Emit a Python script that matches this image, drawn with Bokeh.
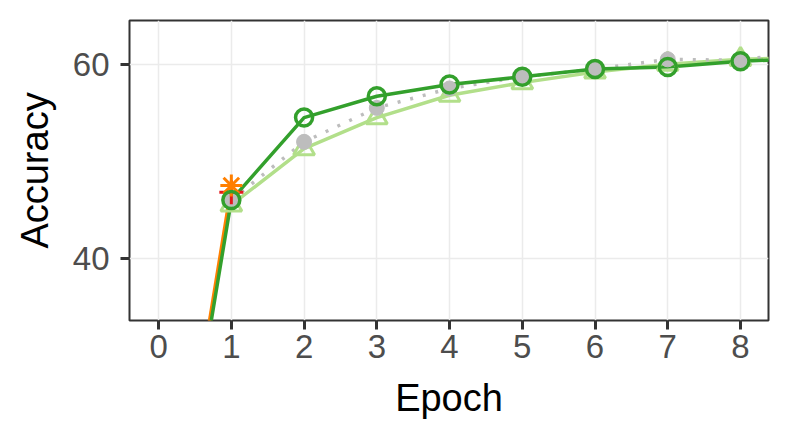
from bokeh.plotting import figure
from bokeh.models import Range1d, FixedTicker
from bokeh.embed import file_html
from bokeh.resources import INLINE

# ---- data ----
epochs = [0, 1, 2, 3, 4, 5, 6, 7, 8, 9]
acc_dark = [1.0, 46.0, 54.5, 56.7, 57.9, 58.7, 59.5, 59.7, 60.3, 60.6]
acc_light_epochs = [1, 2, 3, 4, 5, 6, 7, 8, 9]
acc_light = [45.5, 51.3, 54.5, 56.8, 58.1, 59.2, 60.0, 60.5, 60.7]
acc_gray_epochs = [1, 2, 3, 4, 5, 6, 7, 8, 9]
acc_gray = [46.0, 52.0, 55.5, 57.5, 58.7, 59.5, 60.5, 60.4, 61.5]
orange_epochs = [0, 1]
acc_orange = [1.5, 47.5]
red_epochs = [0, 1]
acc_red = [1.2, 46.8]

x_ticks = [0, 1, 2, 3, 4, 5, 6, 7, 8]
y_ticks = [40, 60]

DARK = "#33a02c"
LIGHT = "#b2df8a"
GRAY = "#bdbdbd"
ORANGE = "#ff7f00"
RED = "#e31a1c"
FONT = "Liberation Sans"

p = figure(width=789, height=446, output_backend="svg", toolbar_location=None,
           x_range=Range1d(-0.4, 8.385), y_range=Range1d(33.6, 64.5),
           min_border_left=129, min_border_right=21, min_border_top=20,
           min_border_bottom=126)

p.background_fill_color = "white"
p.border_fill_color = "white"
p.outline_line_color = "#333333"
p.outline_line_width = 2
p.outline_line_alpha = 1.0

p.xaxis.ticker = FixedTicker(ticks=x_ticks)
p.yaxis.ticker = FixedTicker(ticks=y_ticks)
p.xgrid.ticker = FixedTicker(ticks=x_ticks)
p.ygrid.ticker = FixedTicker(ticks=y_ticks)
for g in (p.xgrid, p.ygrid):
    g.grid_line_color = "#ebebeb"
    g.grid_line_width = 1.5

for ax in (p.xaxis, p.yaxis):
    ax.axis_line_color = None
    ax.major_tick_line_color = "#333333"
    ax.major_tick_line_width = 3
    ax.major_tick_out = 9
    ax.major_tick_in = 0
    ax.minor_tick_line_color = None
    ax.major_label_text_font = FONT
    ax.major_label_text_font_size = "33px"
    ax.major_label_text_color = "#4d4d4d"
    ax.axis_label_text_font = FONT
    ax.axis_label_text_font_size = "38px"
    ax.axis_label_text_font_style = "normal"
    ax.axis_label_text_color = "black"

p.xaxis.axis_label = "Epoch"
p.yaxis.axis_label = "Accuracy"
p.xaxis.major_label_standoff = 5
p.yaxis.major_label_standoff = 11
p.xaxis.axis_label_standoff = 16
p.yaxis.axis_label_standoff = 14

# lines
p.line(red_epochs, acc_red, line_color=RED, line_width=3)
p.line(orange_epochs, acc_orange, line_color=ORANGE, line_width=3)
p.line(acc_light_epochs, acc_light, line_color=LIGHT, line_width=3.5)
p.line(acc_gray_epochs, acc_gray, line_color=GRAY, line_width=3.5, line_dash="3 10")
p.line(epochs, acc_dark, line_color=DARK, line_width=3.5)

# markers
p.scatter(acc_light_epochs, acc_light, marker="triangle", size=21,
          fill_color=None, line_color=LIGHT, line_width=3)
p.scatter(acc_gray_epochs, acc_gray, marker="circle", size=15,
          fill_color=GRAY, line_color=GRAY, line_width=1)
p.scatter(red_epochs, acc_red, marker="cross", size=24,
          line_color=RED, line_width=3)
p.scatter(orange_epochs, acc_orange, marker="asterisk", size=22,
          line_color=ORANGE, line_width=3)
p.scatter(epochs, acc_dark, marker="circle", size=17,
          fill_color=None, line_color=DARK, line_width=3.5)

open("out.html", "w").write(file_html(p, INLINE))
